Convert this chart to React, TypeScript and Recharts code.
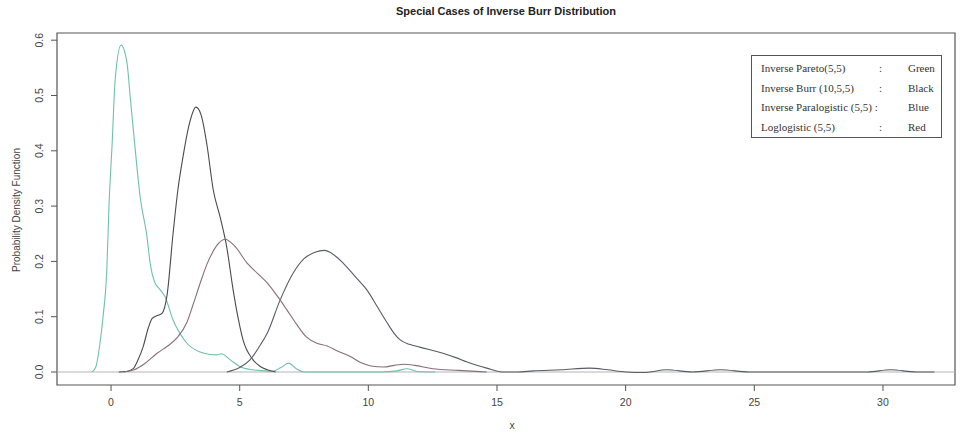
import { LineChart, Line, XAxis, YAxis, ReferenceLine, ReferenceArea } from "recharts";

// [x, density] pairs
const inverseParetoPts: [number, number][] = [
  [-0.75, 0], [-0.6, 0.008], [-0.43, 0.052], [-0.31, 0.1], [-0.16, 0.19], [-0.08, 0.3],
  [0.04, 0.41], [0.16, 0.528], [0.39, 0.591], [0.62, 0.559], [0.74, 0.5], [0.93, 0.407],
  [1.13, 0.317], [1.4, 0.244], [1.52, 0.197], [1.71, 0.161], [1.85, 0.152], [2.1, 0.136],
  [2.41, 0.094], [2.7, 0.068], [2.95, 0.052], [3.46, 0.036], [3.8, 0.032], [4.1, 0.031],
  [4.3, 0.033], [4.63, 0.022], [5.0, 0.01], [5.5, 0.004], [6.0, 0.002], [6.25, 0.001],
  [6.6, 0.008], [6.9, 0.016], [7.2, 0.006], [7.5, 0], [9, 0], [10.5, 0], [11.1, 0.002],
  [11.5, 0.006], [11.9, 0.001], [12.6, 0],
];

const inverseBurrPts: [number, number][] = [
  [0.3, 0], [0.6, 0.001], [0.86, 0.006], [1.05, 0.022], [1.25, 0.046], [1.45, 0.08],
  [1.6, 0.097], [1.8, 0.102], [1.98, 0.106], [2.18, 0.14], [2.41, 0.25], [2.6, 0.33],
  [2.8, 0.39], [3.05, 0.45], [3.3, 0.479], [3.5, 0.465], [3.73, 0.41], [3.97, 0.33],
  [4.24, 0.28], [4.5, 0.225], [4.74, 0.15], [4.95, 0.095], [5.13, 0.058], [5.52, 0.022],
  [5.8, 0.01], [6.07, 0.004], [6.4, 0],
];

const inverseParalogisticPts: [number, number][] = [
  [4.5, 0], [5.0, 0.008], [5.4, 0.022], [5.75, 0.045], [6.07, 0.07], [6.57, 0.13],
  [7.08, 0.179], [7.5, 0.205], [7.9, 0.216], [8.3, 0.22], [8.6, 0.214], [9.02, 0.197],
  [9.5, 0.172], [9.95, 0.148], [10.35, 0.118], [10.73, 0.089], [11.0, 0.07], [11.24, 0.058],
  [11.6, 0.05], [12.0, 0.045], [12.9, 0.034], [13.4, 0.026], [13.84, 0.018], [14.6, 0.007],
  [15.2, 0], [15.8, 0], [16.4, 0.002], [17.5, 0.004], [18.6, 0.007], [19.3, 0.004],
  [20.0, 0], [20.7, -0.001], [21.6, 0.004], [22.6, 0], [23.7, 0.004], [24.8, 0],
  [26.5, 0], [28.5, 0], [29.4, 0], [30.3, 0.004], [31.3, 0], [32.0, 0],
];

const loglogisticPts: [number, number][] = [
  [0.5, 0], [0.9, 0.004], [1.3, 0.015], [1.79, 0.034], [2.2, 0.047], [2.57, 0.062],
  [2.95, 0.09], [3.19, 0.122], [3.46, 0.16], [3.73, 0.195], [4.1, 0.228], [4.43, 0.24],
  [4.8, 0.228], [5.29, 0.197], [5.7, 0.178], [6.07, 0.161], [6.45, 0.138], [6.84, 0.112],
  [7.2, 0.087], [7.6, 0.063], [8.0, 0.052], [8.4, 0.047], [8.8, 0.038], [9.3, 0.028],
  [9.7, 0.017], [10.1, 0.011], [10.6, 0.009], [11.0, 0.012], [11.4, 0.014], [11.8, 0.012],
  [12.5, 0.006], [13.5, 0.003], [14.6, 0],
];

const xTicks = [0, 5, 10, 15, 20, 25, 30];
const yTicks = [0, 0.1, 0.2, 0.3, 0.4, 0.5, 0.6];

const legendNames = ["Inverse Pareto(5,5)", "Inverse Burr (10,5,5)", "Inverse Paralogistic (5,5) :", "Loglogistic (5,5)"];
const legendColours = ["Green", "Black", "Blue", "Red"];

const X_DOMAIN: [number, number] = [-2.1, 32.8];
const Y_DOMAIN: [number, number] = [-0.0235, 0.613];

const toRows = (pts: [number, number][]) => pts.map(([x, y]) => ({ x, y }));

const series = [
  { key: "green", data: toRows(inverseParetoPts), color: "#6fc1a7" },
  { key: "black", data: toRows(inverseBurrPts), color: "#4a4a4a" },
  { key: "blue", data: toRows(inverseParalogisticPts), color: "#595c66" },
  { key: "red", data: toRows(loglogisticPts), color: "#8a6e74" },
];

const sans = "'Liberation Sans', Arial, sans-serif";
const serif = "'Liberation Serif', 'Times New Roman', serif";

function YTick(props: any) {
  const { y, payload } = props;
  return (
    <text x={39} y={y} transform={`rotate(-90 39 ${y})`} textAnchor="middle" dominantBaseline="central"
      fontSize={10.5} fontFamily={sans} fill="#444">
      {payload.value.toFixed(1)}
    </text>
  );
}

function XTick(props: any) {
  const { x, payload } = props;
  return (
    <text x={x} y={406} textAnchor="middle" fontSize={10.5} fontFamily={sans} fill="#444">
      {payload.value}
    </text>
  );
}

export default function App() {
  return (
    <div style={{ position: "absolute", left: 0, top: 0, width: 962, height: 437, background: "#fff" }}>
      <LineChart width={962} height={437} margin={{ top: 33, right: 7, bottom: 0, left: 0 }}>
        <XAxis type="number" dataKey="x" domain={X_DOMAIN} ticks={xTicks} allowDataOverflow
          axisLine={false} tickLine={{ stroke: "#555" }} tickSize={6} height={52} tick={<XTick />} />
        <YAxis type="number" dataKey="y" domain={Y_DOMAIN} ticks={yTicks} allowDataOverflow
          axisLine={false} tickLine={{ stroke: "#555" }} tickSize={6} width={57} tick={<YTick />} />
        <ReferenceLine y={0} stroke="#b5b5b5" strokeWidth={1} />
        {series.map((s) => (
          <Line key={s.key} data={s.data} dataKey="y" type="monotone" stroke={s.color}
            strokeWidth={1.1} dot={false} isAnimationActive={false} />
        ))}
        <ReferenceArea x1={X_DOMAIN[0]} x2={X_DOMAIN[1]} y1={Y_DOMAIN[0]} y2={Y_DOMAIN[1]}
          fill="none" stroke="#555" strokeWidth={1.2} ifOverflow="visible" />
      </LineChart>

      <div style={{ position: "absolute", left: 0, width: 1012, top: 5, textAlign: "center",
        fontFamily: sans, fontWeight: "bold", fontSize: 11, color: "#222" }}>
        Special Cases of Inverse Burr Distribution
      </div>
      <div style={{ position: "absolute", left: 512, top: 425, transform: "translate(-50%,-50%)",
        fontFamily: sans, fontSize: 10.5, color: "#444" }}>x</div>
      <div style={{ position: "absolute", left: 16, top: 210, transform: "translate(-50%,-50%) rotate(-90deg)",
        whiteSpace: "nowrap", fontFamily: sans, fontSize: 10, color: "#444" }}>
        Probability Density Function
      </div>

      <div style={{ position: "absolute", left: 751, top: 55, width: 189, height: 81,
        border: "1px solid #555", background: "#fff", fontFamily: serif, fontSize: 11, color: "#333" }}>
        {legendNames.map((name, i) => (
          <div key={name} style={{ position: "absolute", top: 5 + i * 19.5, left: 0, width: 189, height: 14, lineHeight: "14px" }}>
            <span style={{ position: "absolute", left: 9, whiteSpace: "nowrap" }}>{name}</span>
            {i !== 2 && <span style={{ position: "absolute", left: 127 }}>:</span>}
            <span style={{ position: "absolute", left: 156 }}>{legendColours[i]}</span>
          </div>
        ))}
      </div>
    </div>
  );
}
